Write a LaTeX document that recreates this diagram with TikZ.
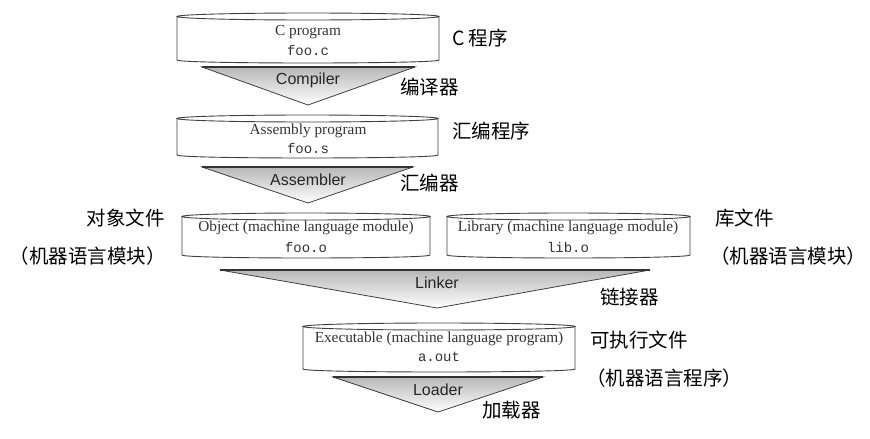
\documentclass[tikz,border=0pt]{standalone}
\usepackage{fontspec}
\setmainfont{Liberation Serif}
\setsansfont{Liberation Sans}
\setmonofont{Liberation Mono}
\newfontfamily\cjk{Noto Sans CJK SC}
\newcommand\mydrum[4]{% x1, x2, ytop, ybot
  \pgfmathsetmacro\drumcx{(#1+#2)/2}%
  \pgfmathsetmacro\drumrx{(#2-#1)/2}%
  \path[drumline] (#1,#3+3.5) -- (#1,#4) .. controls (#1,#4+4) and (#2,#4+4) .. (#2,#4) -- (#2,#3+3.5);
  \path[drumline] (\drumcx,#3+3.5) ellipse [x radius=\drumrx, y radius=3.5];
}
\newcommand\myfunnel[5]{% x1, x2, ytop, xapex, yapex
  \path[funnel] (#1,#3) -- (#2,#3) -- (#4,#5) -- cycle;
  \draw[funneltop] (#1,#3) -- (#2,#3);
}
\begin{document}
\begin{tikzpicture}[x=1pt,y=-1pt,
  drumline/.style={draw=black!75, line width=0.9pt, fill=white},
  drumtxt/.style={font=\fontsize{15.3}{16}\selectfont, text=black!80, inner sep=0pt},
  monotxt/.style={font=\ttfamily\fontsize{14}{15}\selectfont, text=black!80, inner sep=0pt},
  toollbl/.style={font=\sffamily\fontsize{16}{17}\selectfont, text=black!85, inner sep=0pt},
  cjklbl/.style={font=\cjk\fontsize{19.5}{21}\selectfont, inner sep=0pt},
  funnel/.style={top color=black!28, bottom color=white, draw=black!75, line width=0.8pt},
  funneltop/.style={draw=black!80, line width=1.3pt},
]
\useasboundingbox[fill=white] (0,0) rectangle (870,439);

% drums
\mydrum{177}{439}{13}{60}
\mydrum{177}{438}{115}{155}
\mydrum{182}{430}{213}{255}
\mydrum{447}{690}{213}{255}
\mydrum{303}{575}{323}{369}

% funnels
\myfunnel{202}{415}{67}{308}{105}
\myfunnel{202}{413}{167}{308}{203}
\myfunnel{220}{650}{270}{437}{308}
\myfunnel{333}{543}{377}{438}{412}

% drum texts
\node[drumtxt] (cprog) at (308,32) {C program};
\node[monotxt] (fooc) at (308,50) {foo.c};
\node[drumtxt] (asmprog) at (308,131) {Assembly program};
\node[monotxt] (foos) at (308,148) {foo.s};
\node[drumtxt] (obj) at (306,228) {Object (machine language module)};
\node[monotxt] (fooo) at (306,247) {foo.o};
\node[drumtxt] (lib) at (568,228) {Library (machine language module)};
\node[monotxt] (libo) at (568,247) {lib.o};
\node[drumtxt] (exe) at (439,339) {Executable (machine language program)};
\node[monotxt] (aout) at (439,357) {a.out};

% tool labels
\node[toollbl] (compiler) at (308,80) {Compiler};
\node[toollbl] (assembler) at (308,180) {Assembler};
\node[toollbl] (linker) at (437,283) {Linker};
\node[toollbl] (loader) at (438,390) {Loader};

% chinese labels
\node[cjklbl, anchor=west] (zc) at (452,38) {C 程序};
\node[cjklbl, anchor=west] (zcomp) at (400,87) {编译器};
\node[cjklbl, anchor=west] (zasmp) at (452,131) {汇编程序};
\node[cjklbl, anchor=west] (zasm) at (400,183) {汇编器};
\node[cjklbl, anchor=east] (zobj) at (165,218) {对象文件};
\node[cjklbl, anchor=east] (zobj2) at (166,256) {（机器语言模块）};
\node[cjklbl, anchor=west] (zlib) at (715,218) {库文件};
\node[cjklbl, anchor=west] (zlib2) at (710,256) {（机器语言模块）};
\node[cjklbl, anchor=west] (zlink) at (600,297) {链接器};
\node[cjklbl, anchor=west] (zexe) at (590,340) {可执行文件};
\node[cjklbl, anchor=west] (zexe2) at (586,378) {（机器语言程序）};
\node[cjklbl, anchor=west] (zload) at (482,410) {加载器};
\end{tikzpicture}
\end{document}
